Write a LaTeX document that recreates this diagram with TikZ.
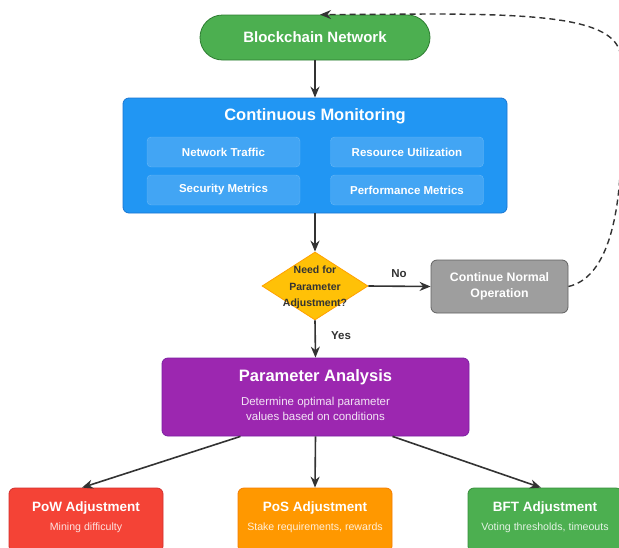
\documentclass[tikz,border=0pt]{standalone}
\usepackage{fontspec}
\setmainfont{Liberation Sans}
\usepackage{tikz}
\usetikzlibrary{shapes.geometric, arrows.meta}
\definecolor{netgreen}{HTML}{4CAF50}
\definecolor{netgreenb}{HTML}{2E7D32}
\definecolor{monblue}{HTML}{2196F3}
\definecolor{monblueb}{HTML}{1976D2}
\definecolor{askyellow}{HTML}{FFC107}
\definecolor{askyellowb}{HTML}{FFA000}
\definecolor{contgray}{HTML}{9E9E9E}
\definecolor{contgrayb}{HTML}{616161}
\definecolor{anapurple}{HTML}{9C27B0}
\definecolor{anapurpleb}{HTML}{7B1FA2}
\definecolor{powred}{HTML}{F44336}
\definecolor{powredb}{HTML}{D32F2F}
\definecolor{posorange}{HTML}{FF9800}
\definecolor{posorangeb}{HTML}{F57C00}
\definecolor{bftgreenb}{HTML}{388E3C}
\definecolor{linegray}{HTML}{333333}
\tikzset{
  arrow/.style = {draw=linegray, line width=1.6pt, -{Stealth[length=11pt,width=9pt]}},
  card/.style = {rounded corners=6pt, line width=0.8pt, inner sep=0pt, text=white},
  metric/.style = {rounded corners=4pt, fill=white, fill opacity=0.15, draw=white, draw opacity=0.25,
    text opacity=1, text=white, minimum width=153pt, minimum height=30pt, inner sep=0pt,
    font=\fontsize{11.5}{14}\selectfont\bfseries},
  title/.style = {text=white, font=\fontsize{16.5}{20}\selectfont\bfseries},
  subtitle/.style = {text=white, text opacity=0.88, align=center, font=\fontsize{11.5}{15}\selectfont},
  adjtitle/.style = {text=white, font=\fontsize{13.5}{16}\selectfont\bfseries},
  adjsub/.style = {text=white, text opacity=0.85, font=\fontsize{10.6}{13}\selectfont},
  lbl/.style = {text=linegray, font=\fontsize{11.5}{14}\selectfont\bfseries}
}
\begin{document}
\begin{tikzpicture}[x=1pt,y=-1pt]
  \clip (0,0) rectangle (619,547);
  \fill[white] (0,0) rectangle (619,547);

  % Top of the loop
  \node [card, rounded corners=22.5pt, fill=netgreen, draw=netgreenb, minimum width=230pt, minimum height=45pt,
    font=\fontsize{15}{18}\selectfont\bfseries] (bc) at (315,37.5) {Blockchain Network};

  % Monitoring block with its four metrics
  \node [card, fill=monblue, draw=monblueb, minimum width=384pt, minimum height=115pt] (mon) at (315,155.5) {};
  \node [title] (montitle) at (315,116) {Continuous Monitoring};
  \node [metric] (traffic) at (223.5,152) {Network Traffic};
  \node [metric] (resource) at (407,152) {Resource Utilization};
  \node [metric] (security) at (223.5,190) {Security Metrics};
  \node [metric] (perf) at (407,190) {Performance Metrics};

  % Decision
  \node [diamond, fill=askyellow, draw=askyellowb, line width=0.8pt, inner sep=0pt,
    minimum width=106pt, minimum height=68pt] (dia) at (315,286) {};
  \node [align=center, text=linegray, font=\fontsize{10.5}{16.5}\selectfont\bfseries] (diatxt) at (315,287.5)
    {Need for\\Parameter\\Adjustment?};

  \node [card, fill=contgray, draw=contgrayb, minimum width=137pt, minimum height=53pt, align=center,
    font=\fontsize{12.3}{16}\selectfont\bfseries] (cont) at (499.5,286.5) {Continue Normal\\Operation};

  % Analysis
  \node [card, fill=anapurple, draw=anapurpleb, minimum width=307pt, minimum height=78pt] (pa) at (315.5,397) {};
  \node [title] (patitle) at (315.5,377) {Parameter Analysis};
  \node [subtitle] (pasub) at (315.5,408.5) {Determine optimal parameter\\values based on conditions};

  % Adjustments per consensus type
  \node [card, fill=powred, draw=powredb, minimum width=154pt, minimum height=64pt] (pow) at (86,520) {};
  \node [adjtitle] (powtitle) at (86,508) {PoW Adjustment};
  \node [adjsub] (powsub) at (86,527.5) {Mining difficulty};

  \node [card, fill=posorange, draw=posorangeb, minimum width=154pt, minimum height=64pt] (pos) at (315,520) {};
  \node [adjtitle] (postitle) at (315,508) {PoS Adjustment};
  \node [adjsub] (possub) at (315,527.5) {Stake requirements, rewards};

  \node [card, fill=netgreen, draw=bftgreenb, minimum width=154pt, minimum height=64pt] (bft) at (545,520) {};
  \node [adjtitle] (bfttitle) at (545,508) {BFT Adjustment};
  \node [adjsub] (bftsub) at (545,527.5) {Voting thresholds, timeouts};

  % Connectors
  \draw [arrow] (bc.south) -- (mon.north);
  \draw [arrow] (mon.south) -- (dia.north);
  \draw [arrow] (dia.east) -- (cont.west);
  \node [lbl] (no) at (399,274) {No};
  \draw [arrow] (dia.south) -- (pa.north);
  \node [lbl] (yes) at (341,336) {Yes};
  \draw [arrow] ([xshift=-75pt]pa.south) -- ([xshift=-4pt]pow.north);
  \draw [arrow] (pa.south) -- (pos.north);
  \draw [arrow] ([xshift=77pt]pa.south) -- ([xshift=-4pt]bft.north);

  % Loop back
  \draw [arrow, line width=1.4pt, dash pattern=on 6pt off 4pt] (cont.east)
    .. controls (606,278) and (620,220) .. (621,150) -- (621,60)
    .. controls (621,22) and (560,14) .. (430,14) -- ([xshift=5pt]bc.north);
\end{tikzpicture}
\end{document}
